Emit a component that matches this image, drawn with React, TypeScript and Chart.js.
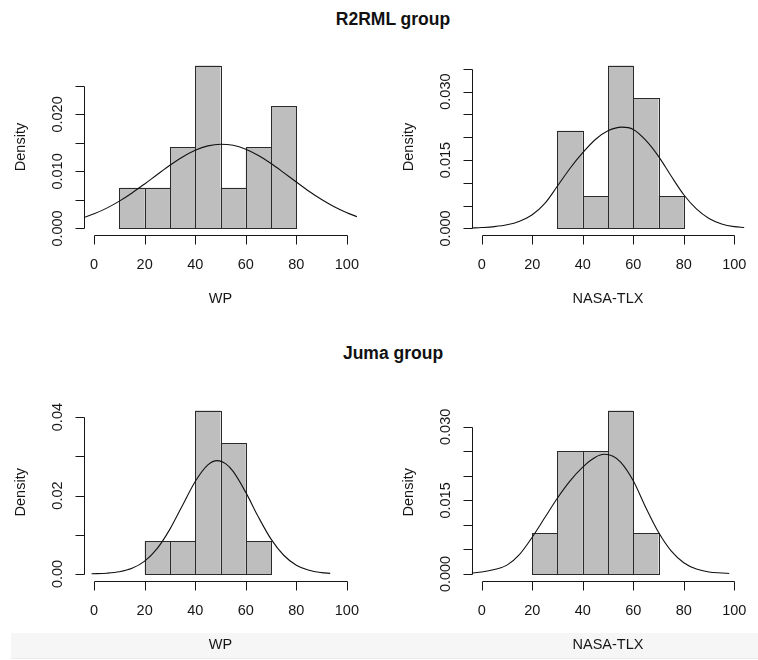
import React, { useEffect, useRef } from "react";
import { Chart, registerables } from "chart.js";

Chart.register(...registerables);

const FONT = '"Liberation Sans", Arial, Helvetica, sans-serif';

// ---------- shared axis ticks ----------
const xTicks = [0, 20, 40, 60, 80, 100];
const xTickLabels = ["0", "20", "40", "60", "80", "100"];
const xRange = [-4, 104];

// ---------- R2RML group : WP ----------
const r2rmlWpMids = [15, 25, 35, 45, 55, 65, 75];
const r2rmlWpDensity = [0.00714, 0.00714, 0.01429, 0.02857, 0.00714, 0.01429, 0.02143];
const r2rmlWpCurveX = [-4, 0, 5, 10, 15, 20, 25, 30, 35, 40, 45, 50, 55, 60, 65, 70, 75, 80, 85, 90, 95, 100, 104];
const r2rmlWpCurveY = [0.00193, 0.00257, 0.00357, 0.0048, 0.00623, 0.00781, 0.00946, 0.01108, 0.01253, 0.0137, 0.01448, 0.01478, 0.01458, 0.01389, 0.0128, 0.01139, 0.00979, 0.00814, 0.00653, 0.00507, 0.0038, 0.00275, 0.00208];
const r2rmlWpYTicks = [0, 0.005, 0.01, 0.015, 0.02, 0.025];
const r2rmlWpYLabels = ["0.000", "", "0.010", "", "0.020", ""];

// ---------- R2RML group : NASA-TLX ----------
const r2rmlTlxMids = [35, 45, 55, 65, 75];
const r2rmlTlxDensity = [0.02143, 0.00714, 0.03571, 0.02857, 0.00714];
const r2rmlTlxCurveX = [-4, 0, 5, 10, 15, 20, 25, 30, 35, 40, 45, 50, 55.5, 60, 65, 70, 75, 80, 85, 90, 95, 100, 104];
const r2rmlTlxCurveY = [0.0001, 0.0002, 0.0004, 0.0008, 0.0016, 0.003, 0.0055, 0.0093, 0.0132, 0.0166, 0.0195, 0.0214, 0.0222, 0.0217, 0.0193, 0.0158, 0.0115, 0.0074, 0.0043, 0.0022, 0.001, 0.0004, 0.0002];
const r2rmlTlxYTicks = [0, 0.005, 0.01, 0.015, 0.02, 0.025, 0.03, 0.035];
const r2rmlTlxYLabels = ["0.000", "", "", "0.015", "", "", "0.030", ""];

// ---------- Juma group : WP ----------
const jumaWpMids = [25, 35, 45, 55, 65];
const jumaWpDensity = [0.00833, 0.00833, 0.04167, 0.03333, 0.00833];
const jumaWpCurveX = [-1, 5, 10, 15, 20, 25, 30, 35, 40, 45, 48.8, 52, 55, 60, 65, 70, 75, 80, 85, 90, 93.4];
const jumaWpCurveY = [0.00004, 0.00019, 0.00055, 0.00144, 0.00328, 0.00653, 0.01143, 0.01753, 0.02359, 0.02783, 0.02891, 0.02814, 0.02614, 0.0208, 0.01451, 0.00888, 0.00477, 0.00224, 0.00093, 0.00034, 0.00016];
const jumaWpYTicks = [0, 0.01, 0.02, 0.03, 0.04];
const jumaWpYLabels = ["0.00", "", "0.02", "", "0.04"];

// ---------- Juma group : NASA-TLX ----------
const jumaTlxMids = [25, 35, 45, 55, 65];
const jumaTlxDensity = [0.00833, 0.025, 0.025, 0.03333, 0.00833];
const jumaTlxCurveX = [-4, 0, 5, 10, 15, 20, 25, 30, 35, 40, 45, 48.5, 52, 55, 60, 65, 70, 75, 80, 85, 90, 95, 98];
const jumaTlxCurveY = [0.0002, 0.0004, 0.0009, 0.0018, 0.004, 0.0075, 0.0115, 0.0155, 0.019, 0.0218, 0.0238, 0.0244, 0.024, 0.0228, 0.019, 0.0135, 0.0085, 0.0047, 0.0023, 0.001, 0.0004, 0.0002, 0.0001];
const jumaTlxYTicks = [0, 0.005, 0.01, 0.015, 0.02, 0.025, 0.03];
const jumaTlxYLabels = ["0.000", "", "", "0.015", "", "", "0.030"];

const groupTitles = ["R2RML group", "Juma group"];
const yTitle = "Density";

type PanelData = {
  mids: number[];
  density: number[];
  curveX: number[];
  curveY: number[];
  yTicks: number[];
  yLabels: string[];
  xTitle: string;
};

const panels: PanelData[] = [
  { mids: r2rmlWpMids, density: r2rmlWpDensity, curveX: r2rmlWpCurveX, curveY: r2rmlWpCurveY, yTicks: r2rmlWpYTicks, yLabels: r2rmlWpYLabels, xTitle: "WP" },
  { mids: r2rmlTlxMids, density: r2rmlTlxDensity, curveX: r2rmlTlxCurveX, curveY: r2rmlTlxCurveY, yTicks: r2rmlTlxYTicks, yLabels: r2rmlTlxYLabels, xTitle: "NASA-TLX" },
  { mids: jumaWpMids, density: jumaWpDensity, curveX: jumaWpCurveX, curveY: jumaWpCurveY, yTicks: jumaWpYTicks, yLabels: jumaWpYLabels, xTitle: "WP" },
  { mids: jumaTlxMids, density: jumaTlxDensity, curveX: jumaTlxCurveX, curveY: jumaTlxCurveY, yTicks: jumaTlxYTicks, yLabels: jumaTlxYLabels, xTitle: "NASA-TLX" },
];

// ---------- layout (plot regions in page pixels) ----------
const W = 758;
const H = 660;
const plotAreas = [
  { left: 84, right: 357, top: 59, bottom: 235 },
  { left: 471.6, right: 744.4, top: 59, bottom: 235 },
  { left: 84, right: 357, top: 404, bottom: 580.5 },
  { left: 471.6, right: 744.4, top: 404, bottom: 580.5 },
];

const INK = "#161616";
const TICK_LEN = 9;

function makeAxesPlugin(p: PanelData) {
  return {
    id: "rAxes",
    afterDatasetDraw(chart: any, args: any) {
      if (args.index !== 1) return;
      // crisp R-style bar outlines (shared edges overlap)
      const ctx = chart.ctx;
      const meta = chart.getDatasetMeta(1);
      ctx.save();
      ctx.strokeStyle = "#2a2a2a";
      ctx.lineWidth = 1;
      meta.data.forEach((el: any) => {
        const { x, y, base, width } = el.getProps(["x", "y", "base", "width"], true);
        const l = Math.round(x - width / 2) + 0.5;
        const r = Math.round(x + width / 2) + 0.5;
        const t = Math.round(y) + 0.5;
        const b = Math.round(base) + 0.5;
        ctx.strokeRect(l, t, r - l, b - t);
      });
      ctx.restore();
    },
    afterDraw(chart: any) {
      const ctx = chart.ctx;
      const area = chart.chartArea;
      const xs = chart.scales.x;
      const ys = chart.scales.y;
      ctx.save();
      ctx.strokeStyle = INK;
      ctx.fillStyle = INK;
      ctx.lineWidth = 1;

      // x axis
      const axY = Math.round(area.bottom) + 0.5;
      const xa = Math.round(xs.getPixelForValue(xTicks[0])) + 0.5;
      const xb = Math.round(xs.getPixelForValue(xTicks[xTicks.length - 1])) + 0.5;
      ctx.beginPath();
      ctx.moveTo(xa, axY);
      ctx.lineTo(xb, axY);
      xTicks.forEach((v) => {
        const px = Math.round(xs.getPixelForValue(v)) + 0.5;
        ctx.moveTo(px, axY);
        ctx.lineTo(px, axY + TICK_LEN);
      });
      ctx.stroke();
      ctx.font = `14.5px ${FONT}`;
      ctx.textAlign = "center";
      ctx.textBaseline = "middle";
      xTicks.forEach((v, i) => {
        ctx.fillText(xTickLabels[i], xs.getPixelForValue(v), axY + 29);
      });
      ctx.fillText(p.xTitle, (area.left + area.right) / 2, axY + 63);

      // y axis
      const axX = Math.round(area.left) + 0.5;
      const ya = Math.round(ys.getPixelForValue(p.yTicks[0])) + 0.5;
      const yb = Math.round(ys.getPixelForValue(p.yTicks[p.yTicks.length - 1])) + 0.5;
      ctx.beginPath();
      ctx.moveTo(axX, ya);
      ctx.lineTo(axX, yb);
      p.yTicks.forEach((v) => {
        const py = Math.round(ys.getPixelForValue(v)) + 0.5;
        ctx.moveTo(axX, py);
        ctx.lineTo(axX - TICK_LEN, py);
      });
      ctx.stroke();
      p.yTicks.forEach((v, i) => {
        const lab = p.yLabels[i];
        if (!lab) return;
        ctx.save();
        ctx.translate(axX - 27, ys.getPixelForValue(v));
        ctx.rotate(-Math.PI / 2);
        ctx.fillText(lab, 0, 0);
        ctx.restore();
      });
      ctx.save();
      ctx.translate(axX - 64, (area.top + area.bottom) / 2);
      ctx.rotate(-Math.PI / 2);
      ctx.fillText(yTitle, 0, 0);
      ctx.restore();

      ctx.restore();
    },
  };
}

function Panel({ data, area }: { data: PanelData; area: { left: number; right: number; top: number; bottom: number } }) {
  const ref = useRef<HTMLCanvasElement | null>(null);
  useEffect(() => {
    if (!ref.current) return;
    const maxD = Math.max(...data.density);
    const chart = new Chart(ref.current, {
      type: "bar",
      data: {
        datasets: [
          {
            type: "line",
            data: data.curveX.map((x, i) => ({ x, y: data.curveY[i] })),
            borderColor: "#111",
            borderWidth: 1.1,
            pointRadius: 0,
            cubicInterpolationMode: "monotone",
            fill: false,
            order: 0,
          } as any,
          {
            type: "bar",
            data: data.mids.map((x, i) => ({ x, y: data.density[i] })),
            backgroundColor: "#bebebe",
            borderWidth: 0,
            inflateAmount: 0,
            barPercentage: 1,
            categoryPercentage: 1,
            grouped: false,
            order: 1,
          } as any,
        ],
      },
      options: {
        responsive: false,
        animation: false,
        events: [],
        layout: {
          padding: {
            left: area.left,
            top: area.top,
            right: W - area.right,
            bottom: H - area.bottom,
          },
        },
        plugins: {
          legend: { display: false },
          title: { display: false },
          tooltip: { enabled: false },
        },
        scales: {
          x: {
            type: "linear",
            min: xRange[0],
            max: xRange[1],
            display: false,
            offset: false,
            ticks: { stepSize: 20, includeBounds: false },
          },
          y: {
            type: "linear",
            min: -0.04 * maxD,
            max: 1.04 * maxD,
            display: false,
          },
        },
      } as any,
      plugins: [makeAxesPlugin(data)],
    });
    return () => chart.destroy();
  }, [data, area]);
  return (
    <canvas
      ref={ref}
      width={W}
      height={H}
      style={{ position: "absolute", left: 0, top: 0, width: W, height: H }}
    />
  );
}

export default function App() {
  return (
    <div
      style={{
        position: "absolute",
        left: 0,
        top: 0,
        width: W,
        height: H,
        background: "#fff",
        overflow: "hidden",
        fontFamily: FONT,
      }}
    >
      <div
        style={{
          position: "absolute",
          left: 11,
          top: 633,
          width: W - 11,
          height: 25,
          background: "#f6f6f6",
          borderBottom: "1px solid #ececec",
        }}
      />
      {groupTitles.map((t, i) => (
        <div
          key={t}
          style={{
            position: "absolute",
            left: 243,
            width: 300,
            top: i === 0 ? 8 : 342,
            height: 22,
            lineHeight: "22px",
            textAlign: "center",
            fontWeight: "bold",
            fontSize: 17.5,
            color: "#111",
          }}
        >
          {t}
        </div>
      ))}
      {panels.map((p, i) => (
        <Panel key={i} data={p} area={plotAreas[i]} />
      ))}
    </div>
  );
}
